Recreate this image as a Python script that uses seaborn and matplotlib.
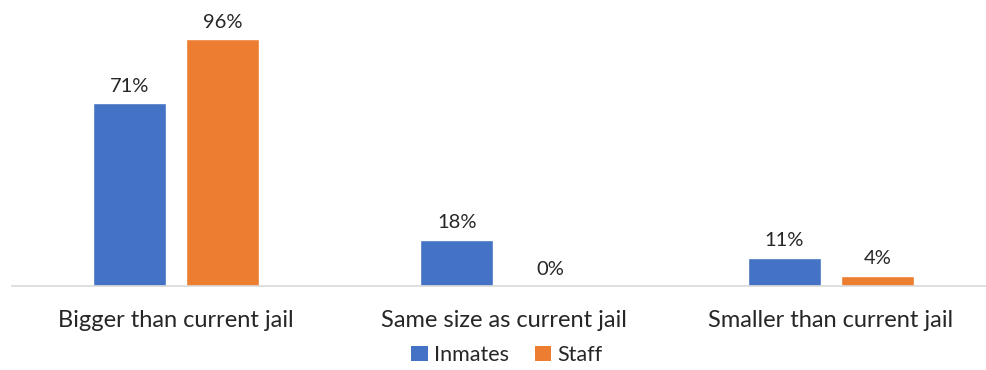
import matplotlib
matplotlib.use("Agg")
import matplotlib.pyplot as plt
import seaborn as sns
import pandas as pd
from matplotlib.patches import Patch

categories = ["Bigger than current jail", "Same size as current jail", "Smaller than current jail"]
inmates = [71, 18, 11]
staff = [96, 0, 4]
series = ["Inmates", "Staff"]
colors = ["#4472C4", "#ED7D31"]

df = pd.DataFrame({
    "category": categories * 2,
    "value": inmates + staff,
    "group": [series[0]] * 3 + [series[1]] * 3,
})

sns.set_theme(style="white")
plt.rcParams["font.family"] = ["Lato", "DejaVu Sans"]

fig = plt.figure(figsize=(9.86, 3.70), dpi=100)
W, H = 986, 370
left, right = 12.25, 994.75
bottom_px, top_px = 286, 30
ax = fig.add_axes([left / W, 1 - bottom_px / H, (right - left) / W, (bottom_px - top_px) / H])

sns.barplot(data=df, x="category", y="value", hue="group", palette=colors,
            width=0.569, gap=0.216, ax=ax, legend=False, saturation=1)
ax.set_ylim(0, 99.5)
ax.set_xlim(-0.5, 2.5)

for cont in ax.containers:
    ax.bar_label(cont, labels=[f"{v:.0f}%" for v in cont.datavalues], padding=6,
                 fontsize=14.5, color="#262626")

ax.set_xlabel("")
ax.set_ylabel("")
ax.set_yticks([])
ax.tick_params(axis="x", length=0, labelsize=17, colors="#262626", pad=17)
for s in ["top", "right", "left"]:
    ax.spines[s].set_visible(False)
ax.spines["bottom"].set_color("#D9D9D9")
ax.spines["bottom"].set_linewidth(1.2)

handles = [Patch(facecolor=c, edgecolor="none") for c in colors]
fig.legend(handles, series, loc="center", bbox_to_anchor=(507 / W, 1 - 355 / H), ncol=2,
           frameon=False, fontsize=15.5, handlelength=0.75, handleheight=0.75,
           handletextpad=0.3, columnspacing=1.2, labelcolor="#262626")

fig.savefig("out.png", dpi=100)
